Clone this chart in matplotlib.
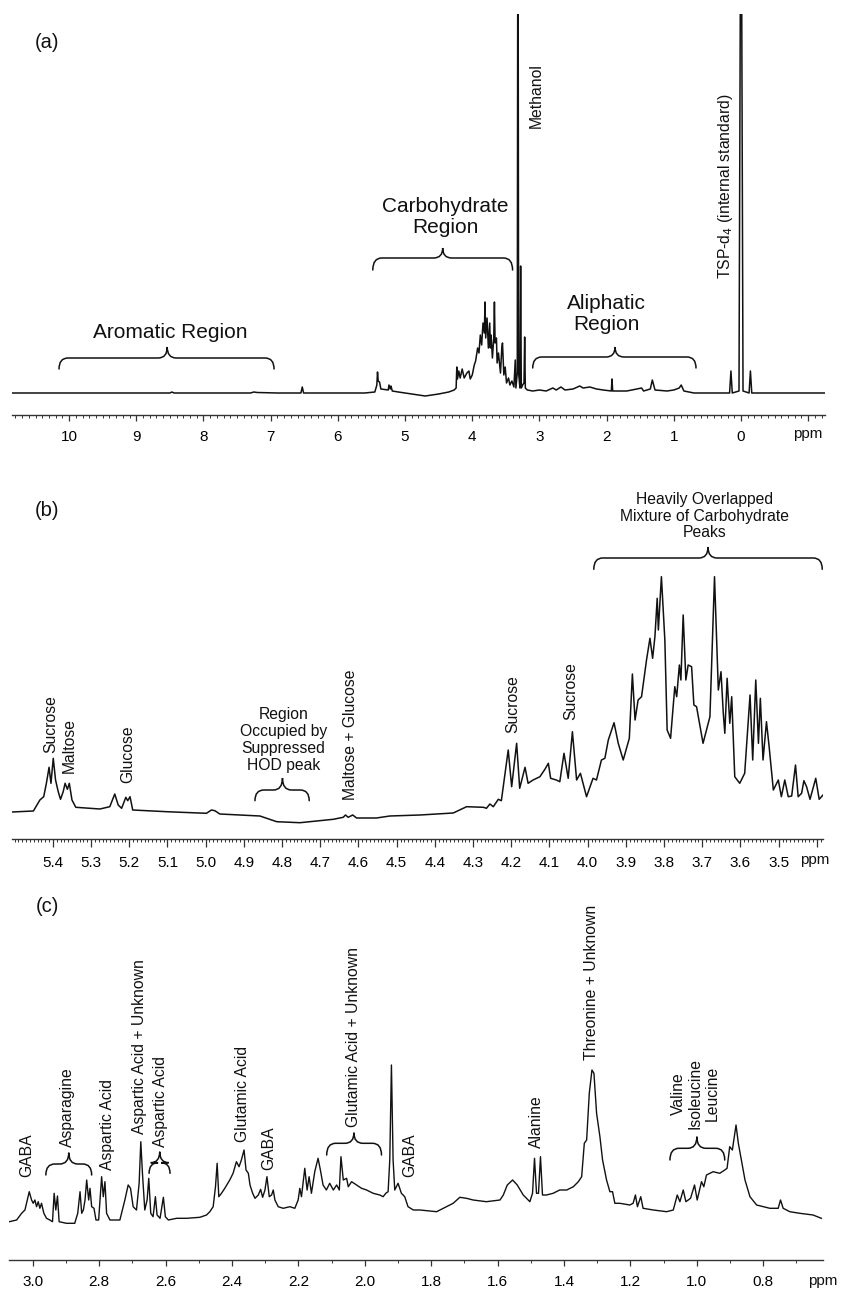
#!/usr/bin/env python3
from __future__ import annotations

import matplotlib

matplotlib.use("Agg")
import matplotlib.pyplot as plt
from matplotlib.patches import PathPatch
from matplotlib.path import Path
from matplotlib.ticker import FixedLocator, MultipleLocator
import numpy as np

plt.rcParams["font.family"] = ["Liberation Sans", "DejaVu Sans"]

# ---------------- panel (a): full spectrum, traced vertices ----------------
a_ppm = [10.85, 8.5, 8.47, 8.44, 7.3, 7.25, 7.2, 6.9, 6.55, 6.53, 6.51, 5.6, 5.45, 5.42,
         5.41, 5.40, 5.38, 5.36, 5.25, 5.24, 5.22, 5.21, 5.19, 5.1, 4.9, 4.7, 4.5, 4.35,
         4.27, 4.24, 4.23, 4.22, 4.20, 4.18, 4.15, 4.12, 4.08, 4.05, 4.03, 4.00, 3.97,
         3.95, 3.92, 3.90, 3.88, 3.86, 3.84, 3.82, 3.81, 3.80, 3.78, 3.76, 3.74, 3.73,
         3.72, 3.70, 3.68, 3.67, 3.66, 3.64, 3.63, 3.61, 3.58, 3.56, 3.55, 3.53, 3.51,
         3.49, 3.46, 3.44, 3.41, 3.38, 3.36, 3.35, 3.33, 3.32, 3.31, 3.29, 3.28, 3.27,
         3.25, 3.23, 3.22, 3.21, 3.18, 3.1, 3.0, 2.9, 2.8, 2.75, 2.68, 2.62, 2.5, 2.4,
         2.35, 2.25, 2.15, 2.05, 1.93, 1.92, 1.91, 1.7, 1.55, 1.48, 1.45, 1.35, 1.32,
         1.28, 1.1, 1.0, 0.92, 0.89, 0.85, 0.7, 0.17, 0.15, 0.13, 0.03, 0.0, -0.03,
         -0.12, -0.14, -0.16, -1.25]
a_int = [0, 0, 1, 0, 0, 1, 0.5, 0, 0, 6, 0, 0, 1, 8,
         21, 12, 11, 4, 3, 8, 4, 7, 2, 1, -1, -3, -1, 1,
         3, 5, 26, 14, 22, 15, 24, 15, 20, 22, 14, 18, 28,
         32, 45, 40, 58, 48, 70, 60, 91, 55, 75, 45, 70, 45,
         58, 35, 55, 91, 50, 55, 30, 40, 20, 45, 50, 18, 26,
         10, 15, 8, 12, 6, 33, 5, 20, 600, 20, 5, 127, 5,
         8, 10, 56, 5, 3, 2, 3, 2, 5, 3, 6, 3, 4, 7,
         5, 6, 4, 3, 2, 14, 2, 2, 4, 5, 2, 4, 13,
         3, 2, 3, 5, 8, 2, 0, 0, 22, 0, 2, 600, 2,
         0, 22, 0, 0]

# ---------------- panel (b): 5.5 - 3.4 ppm ----------------
b_ppm = [5.507, 5.451, 5.434, 5.424, 5.417, 5.410, 5.405, 5.399, 5.393, 5.386, 5.380,
         5.373, 5.368, 5.362, 5.357, 5.350, 5.340, 5.277, 5.251, 5.238, 5.229, 5.220,
         5.209, 5.204, 5.198, 5.191, 5.102, 4.998, 4.985, 4.976, 4.963, 4.858, 4.814,
         4.753, 4.666, 4.640, 4.634, 4.627, 4.615, 4.605, 4.553, 4.518, 4.439,
         4.352, 4.317, 4.273, 4.265, 4.256, 4.247, 4.234, 4.226, 4.208, 4.199, 4.186,
         4.178, 4.164, 4.156, 4.143, 4.125, 4.112, 4.103, 4.097, 4.082, 4.073, 4.062,
         4.051, 4.040, 4.029, 4.019, 4.003, 3.986, 3.977, 3.964, 3.955, 3.946, 3.931,
         3.920, 3.907, 3.891, 3.883, 3.876, 3.868, 3.859, 3.846, 3.837, 3.830, 3.824,
         3.818, 3.815, 3.807, 3.798, 3.792, 3.783, 3.772, 3.767, 3.760, 3.756, 3.750,
         3.743, 3.737, 3.728, 3.722, 3.715, 3.698, 3.680, 3.668, 3.658, 3.651, 3.645,
         3.641, 3.635, 3.628, 3.623, 3.615, 3.602, 3.589, 3.575, 3.568, 3.560, 3.553,
         3.548, 3.541, 3.532, 3.525, 3.514, 3.501, 3.493, 3.484, 3.475, 3.466, 3.456,
         3.449, 3.440, 3.434, 3.427, 3.418, 3.403, 3.394, 3.384]
b_int = [0, 1, 12, 15.3, 28.7, 44.7, 28.7, 53.7, 32, 20.3, 12.7,
         20.3, 28.7, 22.7, 28.7, 12, 4.7, 3, 5.3, 18, 7, 3.7,
         14.7, 11.3, 15.3, 2, 0.3, -1.3, 2, 1.3, -2, -4, -9.7,
         -10.7, -7.3, -5.3, -3, -5.3, -3, -6, -6, -4, -3,
         -1, 5.3, 4.7, 3.7, 8, 5.3, 12.7, 11.3, 62, 25.3, 68.7,
         23.7, 44.7, 28.7, 32, 35.3, 42.7, 48.7, 33.7, 32, 30.3, 58.7,
         33.7, 80.3, 32, 38.7, 15.3, 33.7, 32, 52, 53.7, 72, 89.3,
         68.7, 52, 73.7, 138, 92, 112, 115.3, 152, 173.7, 153.7, 175.3,
         213.7, 182, 235.3, 172, 82, 73.7, 125.3, 115.3, 147, 132, 197,
         132, 147, 145.3, 107, 105.3, 68.7, 95.3, 235.3, 122, 140.3, 98.7,
         78.7, 133.7, 88.7, 115.3, 35.3, 28.7, 38.7, 117, 52, 132, 68.7,
         113.7, 52, 90.3, 65.3, 22, 32, 15.3, 32, 15.3, 16, 47,
         15.3, 18.7, 31.3, 25.3, 12.7, 33.7, 12.7, 17]

# ---------------- panel (c): 3.07 - 0.62 ppm ----------------
c_ppm = [3.071, 3.049, 3.034, 3.024, 3.011, 3.004, 2.999, 2.994, 2.989, 2.984, 2.979,
         2.974, 2.967, 2.959, 2.949, 2.941, 2.936, 2.931, 2.926, 2.921, 2.899, 2.874,
         2.865, 2.858, 2.853, 2.848, 2.843, 2.838, 2.832, 2.828, 2.823, 2.816, 2.810,
         2.802, 2.793, 2.788, 2.783, 2.778, 2.768, 2.738, 2.723, 2.713, 2.706, 2.698,
         2.688, 2.680, 2.675, 2.670, 2.663, 2.656, 2.651, 2.645, 2.638, 2.631, 2.626,
         2.617, 2.607, 2.601, 2.592, 2.567, 2.537, 2.497, 2.477, 2.467, 2.457, 2.450,
         2.445, 2.440, 2.432, 2.422, 2.407, 2.397, 2.387, 2.379, 2.372, 2.364, 2.358,
         2.351, 2.346, 2.338, 2.331, 2.321, 2.314, 2.308, 2.301, 2.295, 2.288, 2.281,
         2.276, 2.271, 2.261, 2.246, 2.226, 2.211, 2.201, 2.196, 2.191, 2.181, 2.174,
         2.168, 2.161, 2.151, 2.141, 2.134, 2.126, 2.116, 2.106, 2.095, 2.085, 2.077,
         2.072, 2.065, 2.055, 2.050, 2.040, 2.025, 2.010, 1.995, 1.975, 1.955, 1.945,
         1.937, 1.930, 1.925, 1.920, 1.915, 1.910, 1.900, 1.890, 1.880, 1.870, 1.854,
         1.834, 1.784, 1.734, 1.714, 1.694, 1.674, 1.634, 1.593, 1.583, 1.571, 1.555,
         1.541, 1.523, 1.503, 1.495, 1.489, 1.483, 1.477, 1.471, 1.465, 1.453, 1.433,
         1.413, 1.392, 1.372, 1.357, 1.347, 1.339, 1.332, 1.324, 1.316, 1.310, 1.302,
         1.292, 1.284, 1.272, 1.262, 1.254, 1.247, 1.232, 1.202, 1.192, 1.185, 1.179,
         1.169, 1.162, 1.131, 1.091, 1.071, 1.059, 1.051, 1.041, 1.033, 1.019, 1.007,
         0.999, 0.986, 0.979, 0.971, 0.951, 0.931, 0.916, 0.909, 0.901, 0.893, 0.882,
         0.875, 0.865, 0.855, 0.840, 0.820, 0.780, 0.755, 0.748, 0.740, 0.720, 0.690,
         0.650, 0.625]
c_int = [0.3, 2, 8.7, 12, 30.3, 22, 18.7, 22, 15.3, 20.3, 13.7,
         18.7, 8.7, 3.7, 2, 0.3, 28.7, 12, 26, 0.3, -1.3, -1.3,
         8.7, 30.3, 8.7, 12, 22, 42, 22, 33.7, 15.3, 13.7, 2,
         2, 45.3, 25.3, 40.3, 8.7, 2, 2, 22, 37, 33.7, 15.3,
         12, 38.7, 80.3, 48.7, 12, 22, 43.7, 8.7, 5.3, 25.3, 7,
         3.7, 24.7, 5.3, 2, 3.7, 3.7, 4.7, 7, 10.3, 15.3, 35.3,
         58.7, 25.3, 28.7, 33.7, 42, 48.7, 60.3, 55.3, 62, 72, 52,
         48.7, 37, 28.7, 23.7, 27, 32.7, 24.7, 32, 45.3, 25.3, 27,
         32, 22, 15.3, 13.7, 15.3, 13.7, 22, 33.7, 25.3, 53.7, 32,
         45.3, 28.7, 50.3, 63.7, 52, 37, 32, 38.7, 32, 37, 32,
         65.3, 42, 43.7, 35.3, 40.3, 37, 33.7, 32, 28.7, 27, 25.3,
         28.7, 30.3, 62, 157, 62, 32, 38.7, 28.7, 25.3, 15.3, 12,
         12, 10.3, 18.7, 24.7, 23.7, 22, 20.3, 22, 27, 37, 42,
         37, 27, 20.3, 28.7, 63.7, 28.7, 28.7, 65.3, 27, 27, 28.7,
         32, 32, 35.3, 40.3, 45.3, 78.7, 82, 128.7, 152, 148.7, 108.7,
         85.3, 62, 42, 30.3, 30.3, 18.7, 18.7, 17, 18.7, 27, 15.3,
         25.3, 13.7, 12, 10.3, 12, 27, 20.3, 32, 20.3, 23.7, 37,
         22, 40.3, 35.3, 47, 50.3, 48.7, 52, 53.7, 75.3, 72, 97,
         78.7, 60.3, 42, 25.3, 17, 13.7, 13.7, 22, 13.7, 10.3, 8.7,
         7, 3.7]

# ---------------- annotations ----------------
# (text, ppm, intensity, rotation, va)
a_labels = [
    ("Aromatic Region", 8.49, 61, 0, "center", 15),
    ("Carbohydrate\nRegion", 4.40, 176, 0, "center", 15),
    ("Aliphatic\nRegion", 2.00, 79, 0, "center", 15),
    ("Methanol", 3.05, 297, 90, "center", 11.3),
    ("TSP-d$_4$ (internal standard)", 0.238, 207, 90, "center", 11.3),
]
# braces: left ppm, right ppm, tip ppm, end y, mid y, tip y
a_braces = [(10.15, 6.95, 8.54, 24, 35, 46),
            (5.48, 3.40, 4.44, 123, 135, 145),
            (3.10, 0.67, 1.875, 25, 36, 46)]

b_labels = [
    ("Sucrose", 5.406, 59, 90, "bottom", 11.3),
    ("Maltose", 5.357, 39, 90, "bottom", 11.3),
    ("Glucose", 5.205, 29, 90, "bottom", 11.3),
    ("Region\nOccupied by\nSuppressed\nHOD peak", 4.797, 72, 0, "center", 11.3),
    ("Maltose + Glucose", 4.620, 12, 90, "bottom", 11.3),
    ("Sucrose", 4.197, 79, 90, "bottom", 11.3),
    ("Sucrose", 4.045, 92, 90, "bottom", 11.3),
    ("Heavily Overlapped\nMixture of Carbohydrate\nPeaks", 3.693, 296, 0, "center", 11.3),
]
b_braces = [(4.871, 4.729, 4.799, 11.3, 22, 34),
            (3.984, 3.386, 3.685, 242.7, 254, 265)]

c_labels = [
    ("GABA", 3.019, 45, 90, "bottom", 11.3),
    ("Asparagine", 2.896, 75, 90, "bottom", 11.3),
    ("Aspartic Acid", 2.776, 52, 90, "bottom", 11.3),
    ("Aspartic Acid + Unknown", 2.680, 88, 90, "bottom", 11.3),
    ("Aspartic Acid", 2.616, 75, 90, "bottom", 11.3),
    ("Glutamic Acid", 2.369, 80, 90, "bottom", 11.3),
    ("GABA", 2.291, 52, 90, "bottom", 11.3),
    ("Glutamic Acid + Unknown", 2.033, 95, 90, "bottom", 11.3),
    ("GABA", 1.866, 45, 90, "bottom", 11.3),
    ("Alanine", 1.483, 74, 90, "bottom", 11.3),
    ("Threonine + Unknown", 1.317, 162, 90, "bottom", 11.3),
    ("Valine\nIsoleucine\nLeucine", 1.005, 128.5, 90, "center", 11.3),
]
c_braces = [(2.961, 2.823, 2.892, 47, 58, 69.3),
            (2.650, 2.587, 2.618, 48.7, 59.3, 70.3),
            (2.115, 1.950, 2.033, 67, 78.7, 89.3),
            (1.081, 0.916, 1.000, 62, 73.7, 85.3)]

INK = "#111111"
FIG_W, FIG_H = 841, 1290


def draw_brace(ax, left, right, tip, y_end, y_mid, y_tip, r_px=9.0):
    x0, x1 = ax.get_xlim()
    w_px = ax.get_position().width * FIG_W
    r = r_px * abs(x1 - x0) / w_px
    s = np.sign(right - left)
    verts = [
        (left, y_end), (left, y_mid), (left + s * r, y_mid),
        (tip - s * r, y_mid),
        (tip, y_mid), (tip, y_tip),
        (tip, y_mid), (tip + s * r, y_mid),
        (right - s * r, y_mid),
        (right, y_mid), (right, y_end),
    ]
    codes = [Path.MOVETO, Path.CURVE3, Path.CURVE3, Path.LINETO,
             Path.CURVE3, Path.CURVE3, Path.CURVE3, Path.CURVE3,
             Path.LINETO, Path.CURVE3, Path.CURVE3]
    ax.add_patch(PathPatch(Path(verts, codes), fill=False, lw=1.1,
                           ec=INK, clip_on=False, capstyle="round"))


def setup_axis(ax, xlim, ylim, majors, labels, minor, maj_len, min_len):
    ax.set_xlim(*xlim)
    ax.set_ylim(*ylim)
    for side in ("top", "left", "right"):
        ax.spines[side].set_visible(False)
    ax.spines["bottom"].set_linewidth(1.0)
    ax.spines["bottom"].set_color("#333333")
    ax.set_yticks([])
    ax.xaxis.set_major_locator(FixedLocator(majors))
    ax.set_xticklabels(labels)
    ax.xaxis.set_minor_locator(MultipleLocator(minor))
    ax.tick_params(axis="x", which="major", direction="out", length=maj_len,
                   width=0.9, labelsize=11, pad=6.5, color="#333333")
    ax.tick_params(axis="x", which="minor", direction="out", length=min_len,
                   width=0.7, color="#333333")
    ax.patch.set_alpha(0)


def px_axes(fig, left, right, top, bottom):
    return fig.add_axes([left / FIG_W, 1 - bottom / FIG_H,
                         (right - left) / FIG_W, (bottom - top) / FIG_H])


def put_labels(ax, labels):
    for text, x, y, rot, va, size in labels:
        ax.text(x, y, text, rotation=rot, ha="center", va=va, fontsize=size,
                color=INK, multialignment="center", linespacing=1.15,
                rotation_mode="anchor" if rot == 0 else "default")


def main() -> None:
    fig = plt.figure(figsize=(FIG_W / 100, FIG_H / 100), dpi=100)

    # panel (a)
    ax_a = px_axes(fig, 12, 825, 14, 415)
    setup_axis(ax_a, (10.85, -1.25), (-22, 379), list(range(10, -2, -1)),
               [str(v) for v in range(10, -1, -1)] + [""], 0.1, 4.5, 2.0)
    ax_a.plot(a_ppm, a_int, color=INK, lw=1.1)
    put_labels(ax_a, a_labels)
    for br in a_braces:
        draw_brace(ax_a, *br)

    # panel (b)
    ax_b = px_axes(fig, 12, 823, 440, 839)
    b_major = [round(5.4 - 0.1 * i, 1) for i in range(21)]
    b_lab = [f"{v:.1f}" for v in b_major]
    b_lab[-1] = ""
    setup_axis(ax_b, (5.507, 3.384), (-27, 372), b_major, b_lab, 0.01, 5.5, 2.5)
    ax_b.plot(b_ppm, b_int, color=INK, lw=1.1)
    put_labels(ax_b, b_labels)
    for br in b_braces:
        draw_brace(ax_b, *br)

    # panel (c)
    ax_c = px_axes(fig, 9, 823, 880, 1260)
    c_major = [round(3.0 - 0.2 * i, 1) for i in range(12)]
    setup_axis(ax_c, (3.072, 0.620), (-38, 342), c_major,
               [f"{v:.1f}" for v in c_major], 0.1, 4.0, 2.0)
    ax_c.plot(c_ppm, c_int, color=INK, lw=1.0)
    put_labels(ax_c, c_labels)
    for br in c_braces:
        draw_brace(ax_c, *br)

    # panel letters and ppm unit labels
    for letter, (x, y) in zip("abc", [(47, 42), (47, 510), (47, 907)]):
        fig.text(x / FIG_W, 1 - y / FIG_H, f"({letter})", fontsize=14.5,
                 ha="center", va="center", color=INK)
    for x, y in [(808, 434), (815, 860), (823, 1281)]:
        fig.text(x / FIG_W, 1 - y / FIG_H, "ppm", fontsize=11,
                 ha="center", va="center", color=INK)

    fig.savefig("out.png", dpi=100)
    plt.close(fig)


if __name__ == "__main__":
    main()
